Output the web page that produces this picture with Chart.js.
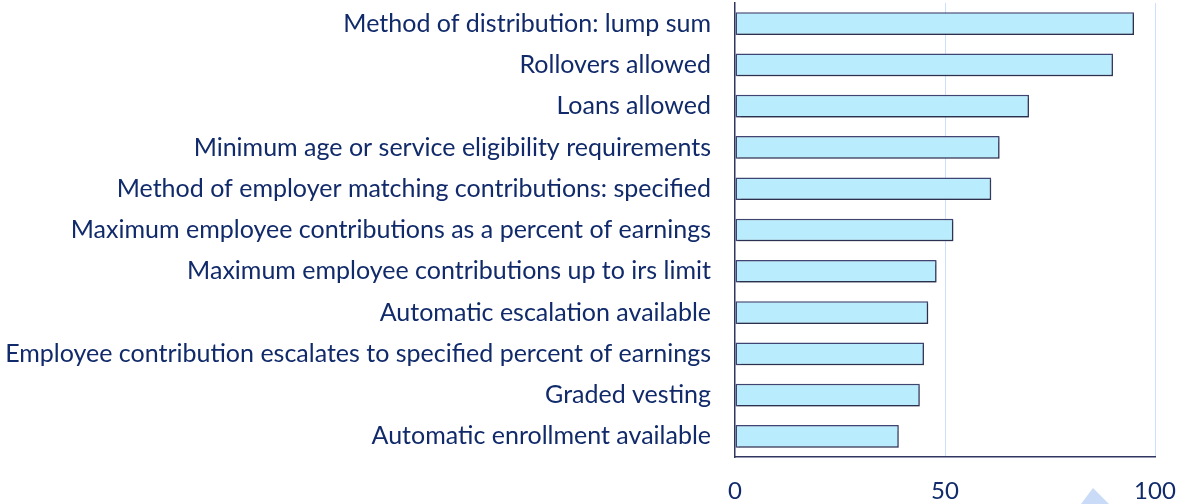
<!DOCTYPE html>
<html>
<head>
<meta charset="utf-8">
<script src="https://cdn.jsdelivr.net/npm/chart.js@4/dist/chart.umd.min.js"></script>
<style>
  html, body { margin: 0; padding: 0; background: #ffffff; }
  #wrap { width: 1180px; height: 504px; position: relative; }
</style>
</head>
<body>
<div id="wrap"><canvas id="chart"></canvas></div>
<script>
const categories = [
    'Method of distribution: lump sum',
    'Rollovers allowed',
    'Loans allowed',
    'Minimum age or service eligibility requirements',
    'Method of employer matching contributions: specified',
    'Maximum employee contributions as a percent of earnings',
    'Maximum employee contributions up to irs limit',
    'Automatic escalation available',
    'Employee contribution escalates to specified percent of earnings',
    'Graded vesting',
    'Automatic enrollment available',
];
const values = [95, 90, 70, 63, 61, 52, 48, 46, 45, 44, 39];
const xTicks = [0, 50, 100];

const NAVY = '#112a6a';
const AXIS = '#30365f';
const GRID = '#cddfff';

// soft shadow behind bars, plus the small triangle mark at the bottom
const decor = {
    id: 'decor',
    beforeDatasetsDraw(chart) {
        const ctx = chart.ctx;
        ctx.save();
        ctx.shadowColor = 'rgba(0,0,0,0.3)';
        ctx.shadowOffsetX = 1;
        ctx.shadowOffsetY = 1.5;
        ctx.shadowBlur = 1;
    },
    afterDatasetsDraw(chart) {
        chart.ctx.restore();
    },
    afterDraw(chart) {
        const ctx = chart.ctx;
        ctx.save();
        ctx.fillStyle = '#c9dbf6';
        ctx.beginPath();
        ctx.moveTo(1081, 504);
        ctx.lineTo(1093, 488);
        ctx.lineTo(1109, 504);
        ctx.closePath();
        ctx.fill();
        ctx.restore();
    },
};

new Chart(document.getElementById('chart'), {
    type: 'bar',
    data: {
        labels: categories,
        datasets: [{
            data: values,
            backgroundColor: '#b9ecfd',
            borderColor: '#3e4572',
            borderWidth: 1.5,
            borderSkipped: false,
            barPercentage: 0.55,
            categoryPercentage: 1,
        }],
    },
    options: {
        indexAxis: 'y',
        responsive: true,
        maintainAspectRatio: false,
        animation: false,
        layout: { padding: { top: 3, right: 25, bottom: 0, left: 0 } },
        plugins: {
            legend: { display: false },
            tooltip: { enabled: false },
        },
        scales: {
            x: {
                min: 0,
                max: 100,
                afterBuildTicks(scale) {
                    scale.ticks = xTicks.map(v => ({ value: v }));
                },
                afterFit(scale) {
                    scale.height = 47;
                    scale.paddingLeft = 0;
                    scale.paddingRight = 0;
                },
                grid: {
                    color: (c) => c.tick && c.tick.value === 0 ? 'rgba(0,0,0,0)' : GRID,
                    lineWidth: 1,
                    drawTicks: false,
                },
                border: { color: AXIS, width: 1.5 },
                ticks: {
                    color: NAVY,
                    padding: 20,
                    maxRotation: 0,
                    font: { family: "Lato, sans-serif", size: 24 },
                },
            },
            y: {
                afterFit(scale) {
                    scale.width = 735;
                    scale.paddingTop = 0;
                    scale.paddingBottom = 0;
                },
                grid: { display: false, drawTicks: false },
                border: { color: AXIS, width: 1.5 },
                ticks: {
                    color: NAVY,
                    padding: 24,
                    autoSkip: false,
                    font: { family: "Lato, sans-serif", size: 25 },
                },
            },
        },
    },
    plugins: [decor],
});
</script>
</body>
</html>
